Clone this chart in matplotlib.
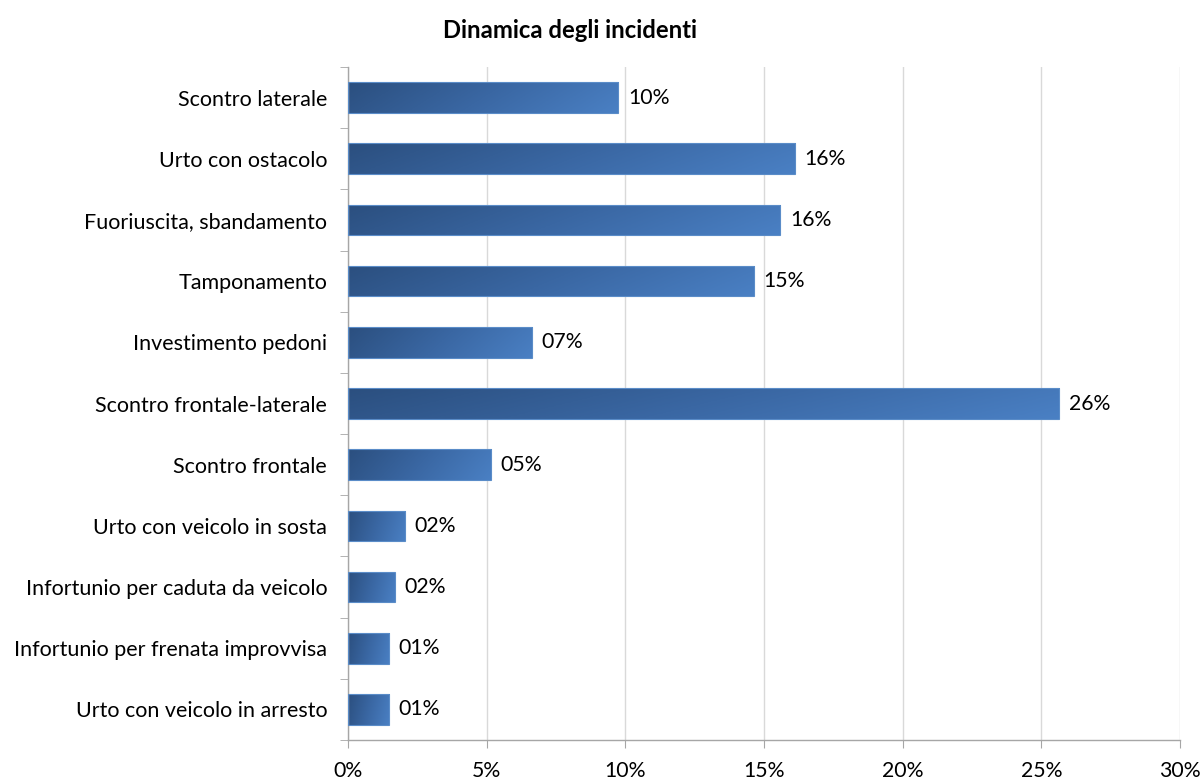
import matplotlib
matplotlib.use("Agg")
import matplotlib.pyplot as plt
import numpy as np
from matplotlib.colors import LinearSegmentedColormap
from matplotlib.patches import Rectangle

categories = [
    "Scontro laterale",
    "Urto con ostacolo",
    "Fuoriuscita, sbandamento",
    "Tamponamento",
    "Investimento pedoni",
    "Scontro frontale-laterale",
    "Scontro frontale",
    "Urto con veicolo in sosta",
    "Infortunio per caduta da veicolo",
    "Infortunio per frenata improvvisa",
    "Urto con veicolo in arresto",
]
values = [9.74, 16.12, 15.58, 14.64, 6.64, 25.64, 5.16, 2.06, 1.69, 1.48, 1.48]
value_labels = ["10%", "16%", "16%", "15%", "07%", "26%", "05%", "02%", "02%", "01%", "01%"]
xticks = [0, 5, 10, 15, 20, 25, 30]
title = "Dinamica degli incidenti"

plt.rcParams['font.family'] = ['Lato', 'DejaVu Sans']

fig = plt.figure(figsize=(12.04, 7.80), dpi=100)
ax = fig.add_axes([348/1204, 1-740/780, (1180-348)/1204, (740-67)/780])

n = len(categories)
ypos = np.arange(n)
bh = 0.5
cmap = LinearSegmentedColormap.from_list("g", ["#2b4f7f", "#3a67a3", "#4a80c4"])

grad = np.linspace(0, 1, 256).reshape(1, -1)
grad2 = np.linspace(0, 1, 32).reshape(-1, 1)
img = grad * 0.85 + grad2 * 0.15

for y, v, lab in zip(ypos, values, value_labels):
    rect = Rectangle((0, y - bh/2), v, bh, facecolor="none", edgecolor="#5a8cc8", lw=0.8, zorder=3)
    ax.add_patch(rect)
    im = ax.imshow(img, cmap=cmap, aspect="auto", extent=(0, v, y + bh/2, y - bh/2),
                   zorder=2, interpolation="bilinear")
    im.set_clip_path(rect)
    ax.text(v + 0.35, y, lab, va="center", ha="left", fontsize=15.3, color="#000000")

ax.set_xlim(0, 30)
ax.set_ylim(n - 0.5, -0.5)

ax.set_xticks(xticks)
ax.set_xticklabels([f"{t}%" for t in xticks], fontsize=15.3)
ax.xaxis.grid(True, color="#d9d9d9", lw=1)
ax.set_axisbelow(True)

ax.set_yticks(ypos)
ax.set_yticklabels(categories, fontsize=15.5)
ax.set_yticks(np.arange(-0.5, n, 1), minor=True)
ax.tick_params(axis="y", which="major", length=0, pad=15)
ax.tick_params(axis="y", which="minor", length=6, color="#a6a6a6", direction="out")
ax.tick_params(axis="x", which="major", length=6, color="#a6a6a6", direction="out", pad=9)

for s in ["top", "right"]:
    ax.spines[s].set_visible(False)
for s in ["left", "bottom"]:
    ax.spines[s].set_color("#a6a6a6")
    ax.spines[s].set_linewidth(1)

fig.text(570/1204, 1 - 30/780, title, ha="center", va="center", fontsize=17.2, fontweight="bold")

fig.savefig("out.png", dpi=100)
